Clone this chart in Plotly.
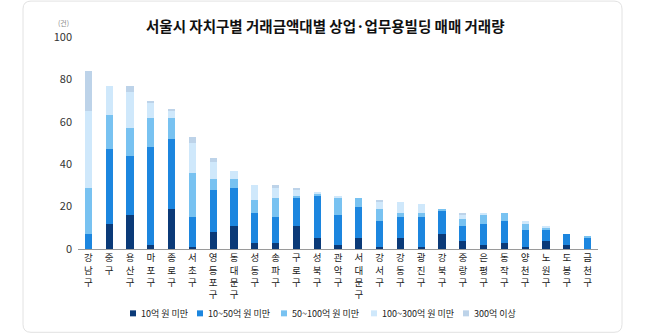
import plotly.graph_objects as go

districts = ["강남구", "중구", "용산구", "마포구", "종로구", "서초구", "영등포구", "동대문구",
             "성동구", "송파구", "구로구", "성북구", "관악구", "서대문구", "강서구", "강동구",
             "광진구", "강북구", "중랑구", "은평구", "동작구", "양천구", "노원구", "도봉구", "금천구"]

under_10 = [0, 12, 16, 2, 19, 1, 8, 11, 3, 3, 11, 5, 2, 5, 1, 5, 1, 7, 4, 2, 3, 1, 4, 2, 0]
b10_50 = [7, 35, 28, 46, 33, 14, 20, 18, 14, 12, 13, 20, 14, 15, 12, 10, 14, 11, 7, 10, 10, 8, 5, 5, 5]
b50_100 = [22, 16, 13, 14, 10, 21, 5, 4, 6, 9, 1, 1, 8, 4, 6, 2, 2, 1, 3, 4, 4, 3, 1, 0, 1]
b100_300 = [36, 14, 17, 7, 3, 14, 8, 4, 7, 5, 3, 1, 1, 0, 3, 5, 4, 0, 2, 1, 0, 1, 1, 0, 0]
over_300 = [19, 0, 3, 1, 1, 3, 2, 0, 0, 1, 1, 0, 0, 0, 1, 0, 0, 0, 1, 0, 0, 0, 0, 0, 0]

series_names = ["10억 원 미만", "10~50억 원 미만", "50~100억 원 미만", "100~300억 원 미만", "300억 이상"]
series_values = [under_10, b10_50, b50_100, b100_300, over_300]
colors = ["#0b3a78", "#1c86df", "#78c2f1", "#cfe8fb", "#bdd3e9"]

y_ticks = [0, 20, 40, 60, 80, 100]
title_text = "서울시 자치구별 거래금액대별 상업·업무용빌딩 매매 거래량"
unit_text = "(건)"

tick_text = ["<br>".join(list(d)) for d in districts]

fig = go.Figure()
for name, vals, col in zip(series_names, series_values, colors):
    fig.add_trace(go.Bar(
        x=districts, y=vals, name=name, marker=dict(color=col, line=dict(width=0)),
        width=0.35, hoverinfo="skip", showlegend=False))

# geometry helpers (pixel -> paper)
L, R, T, B = 78, 598, 37, 249.5
W, H = R - L, B - T
def px(x):
    return (x - L) / W
def py(y):
    return (B - y) / H

# card outline (rounded rectangle)
x0, x1, y0, y1 = 23, 622, 333, 1
r = 8
path = (f"M {px(x0 + r)},{py(y1)} L {px(x1 - r)},{py(y1)} Q {px(x1)},{py(y1)} {px(x1)},{py(y1 + r)} "
        f"L {px(x1)},{py(y0 - r)} Q {px(x1)},{py(y0)} {px(x1 - r)},{py(y0)} "
        f"L {px(x0 + r)},{py(y0)} Q {px(x0)},{py(y0)} {px(x0)},{py(y0 - r)} "
        f"L {px(x0)},{py(y1 + r)} Q {px(x0)},{py(y1)} {px(x0 + r)},{py(y1)} Z")

shapes = [dict(type="path", xref="paper", yref="paper", path=path,
               line=dict(color="#e2e2e2", width=1), fillcolor="rgba(0,0,0,0)", layer="below")]

annotations = [
    dict(text=f"<b>{title_text}</b>", xref="paper", yref="paper", x=px(325), y=py(25),
         xanchor="center", yanchor="middle", showarrow=False,
         font=dict(size=14.5, color="#111", family="Noto Sans CJK KR")),
    dict(text=unit_text, xref="paper", yref="paper", x=px(71), y=py(23),
         xanchor="right", yanchor="middle", showarrow=False,
         font=dict(size=7, color="#888")),
]

# manual legend
legend_x = [133, 200, 284, 374, 466]
legend_y = 314
sq = 6
for lx, name, col in zip(legend_x, series_names, colors):
    shapes.append(dict(type="rect", xref="paper", yref="paper",
                       x0=px(lx - sq / 2), x1=px(lx + sq / 2),
                       y0=py(legend_y + sq / 2), y1=py(legend_y - sq / 2),
                       fillcolor=col, line=dict(width=0)))
    annotations.append(dict(text=name, xref="paper", yref="paper",
                            x=px(lx + 6), y=py(legend_y), xanchor="left", yanchor="middle",
                            showarrow=False, font=dict(size=9, color="#222")))

fig.update_layout(
    barmode="stack",
    width=650, height=335,
    margin=dict(l=L, r=650 - R, t=T, b=335 - B),
    paper_bgcolor="white", plot_bgcolor="white",
    font=dict(family="Noto Sans CJK KR", color="#222"),
    showlegend=False,
    shapes=shapes,
    annotations=annotations,
)
fig.update_xaxes(
    tickmode="array", tickvals=districts, ticktext=tick_text, automargin=False,
    tickfont=dict(size=9.5, color="#222"), showline=True, linecolor="#9a9a9a", linewidth=1,
    showgrid=False, ticks="", fixedrange=True, tickangle=0)
fig.update_yaxes(
    range=[0, 100], tickvals=y_ticks, showgrid=False, zeroline=False, showline=False,
    automargin=False, tickfont=dict(size=11, color="#333"), ticks="", ticklabelstandoff=5)

fig.write_html("out.html")
